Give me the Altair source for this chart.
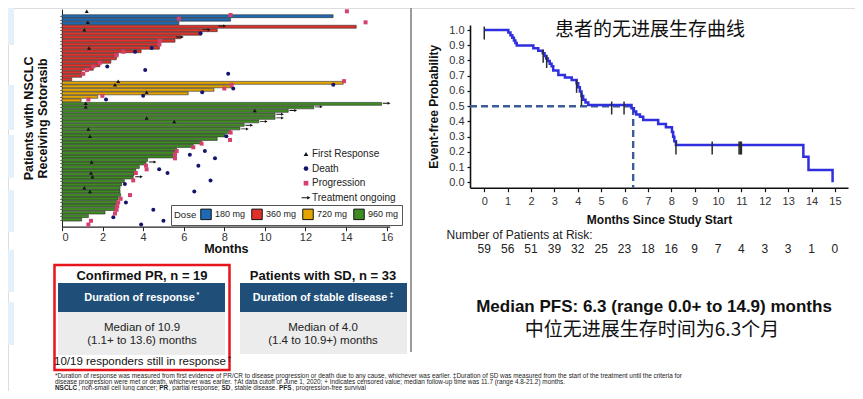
import altair as alt
import pandas as pd

OX, OY = 8, 8          # page margin: chart origin in the screenshot
W, H = 847, 383
LAT = "Liberation Sans"
CJK = "Noto Sans CJK SC"

# ---------------- swimmer plot data (rows listed top -> bottom) ----------------
dose_levels = ["180 mg", "360 mg", "720 mg", "960 mg"]
dose_colors = ["#1f6ab4", "#e0322a", "#e3a500", "#3f8c22"]
dose_counts = [3, 16, 6, 34]
bar_end = [13.36, 8.31, 5.76,
           14.5, 7.65, 6.88, 5.85, 5.57, 4.83, 4.8, 3.9, 2.77, 2.68, 2.41, 1.87, 1.54, 0.97, 0.97, 0.48,
           13.86, 8.36, 7.49, 6.22, 1.76, 0.94,
           15.75, 12.41, 11.15, 10.5, 10.5, 9.7, 8.98, 8.77, 8.31, 8.03, 7.65, 6.88, 6.47, 5.65, 5.57, 5.57,
           4.22, 4.14, 3.81, 3.64, 3.55, 3.51, 3.07, 2.94, 2.86, 2.86, 2.89, 2.77, 2.72, 2.69, 2.61, 2.12,
           1.3, 0.97]
fr_rows = [1, 4, 6, 11, 20, 21, 23, 26, 27, 28, 30, 31, 33, 35, 42, 45, 46, 49, 50]
fr_t = [1.22, 1.27, 1.1, 1.33, 2.77, 2.61, 4.17, 1.17, 1.17, 9.5, 4.17, 5.53, 1.3, 1.38, 1.46, 1.43, 1.5, 1.1, 1.38]
death_rows = [7, 11, 12, 16, 17, 18, 21, 22, 23, 24, 25, 35, 39, 40, 41, 43, 44, 45, 47, 48, 50, 53, 55, 57, 58, 59]
death_t = [6.83, 4.42, 3.6, 2.23, 4.1, 8.19, 13.37, 8.44, 6.91, 4.0, 2.17, 8.1, 7.04, 6.3, 7.54, 6.72, 4.79, 5.2,
           7.32, 3.1, 6.52, 3.15, 4.5, 2.53, 5.0, 3.9]
prog_rows = [1, 2, 3, 4, 9, 10, 12, 13, 15, 16, 17, 18, 20, 21, 22, 24, 25, 34, 36, 37, 38, 39, 40, 41, 43, 44,
             45, 47, 51, 52, 53, 54, 55, 56, 58, 59]
prog_t = [14.04, 8.31, 5.76, 14.96, 4.83, 4.8, 3.02, 2.68, 1.87, 1.54, 1.23, 1.05, 13.9, 8.36, 8.0, 1.99, 1.3,
          8.31, 8.28, 6.88, 6.47, 5.65, 5.57, 5.57, 4.14, 4.17, 3.64, 3.51, 3.35, 2.89, 2.77, 2.72, 2.69, 2.61,
          1.43, 1.3]
ongoing_rows = [5, 6, 8, 26, 27, 28, 29, 30, 31, 32, 33, 42, 46]
event_types = ["First Response", "Death", "Progression", "Treatment ongoing"]
event_colors = ["#111111", "#14146b", "#d6406f", "#111111"]
swim_ticks = [0, 2, 4, 6, 8, 10, 12, 14, 16]

# ---------------- Kaplan-Meier data ----------------
km_t = [0, 1.03, 1.12, 1.2, 1.27, 1.33, 1.39, 2.1, 2.31, 2.5, 2.58, 2.65, 2.72, 2.8, 2.88, 2.95, 3.17, 3.45,
        3.74, 3.95, 4.02, 4.09, 4.16, 4.23, 4.33, 4.45, 6.3, 6.4, 6.5, 6.66, 6.8, 7.44, 7.77, 8.03, 8.08, 8.13,
        8.2, 13.65, 13.87, 14.9]
km_s = [1.0, 0.983, 0.966, 0.949, 0.932, 0.915, 0.898, 0.881, 0.864, 0.847, 0.83, 0.813, 0.796, 0.779, 0.762,
        0.735, 0.705, 0.689, 0.672, 0.65, 0.624, 0.596, 0.567, 0.543, 0.525, 0.508, 0.487, 0.466, 0.446, 0.43,
        0.41, 0.383, 0.361, 0.33, 0.3, 0.27, 0.245, 0.168, 0.082, 0.0]
cens_t = [0, 2.52, 2.67, 3.95, 4.16, 5.45, 5.98, 8.2, 9.75, 10.9, 10.95, 11.0]
cens_s = [1.0, 0.847, 0.813, 0.65, 0.567, 0.508, 0.508, 0.245, 0.245, 0.245, 0.245, 0.245]
median_t = 6.37
risk_t = list(range(16))
risk_n = [59, 56, 51, 39, 32, 25, 23, 18, 16, 9, 7, 4, 3, 3, 1, 0]
km_yticks = [0.0, 0.1, 0.2, 0.3, 0.4, 0.5, 0.6, 0.7, 0.8, 0.9, 1.0]

# ---------------- texts ----------------
km_title = "患者的无进展生存曲线"
risk_label = "Number of Patients at Risk:"
pfs_en = "Median PFS: 6.3 (range 0.0+ to 14.9) months"
pfs_cn = "中位无进展生存时间为6.3个月"
pr_title = "Confirmed PR, n = 19"
pr_head = "Duration of response"
pr_l1 = "Median of 10.9"
pr_l2 = "(1.1+ to 13.6) months"
pr_foot = "10/19 responders still in response"
sd_title = "Patients with SD, n = 33"
sd_head = "Duration of stable disease"
sd_l1 = "Median of 4.0"
sd_l2 = "(1.4 to 10.9+) months"
foot1 = ("*Duration of response was measured from first evidence of PR/CR to disease progression or death due to "
         "any cause, whichever was earlier. \u2021Duration of SD was measured from the start of the treatment until "
         "the criteria for")
foot2 = ("disease progression were met or death, whichever was earlier. \u2020At data cutoff of June 1, 2020; + "
         "Indicates censored value; median follow-up time was 11.7  (range 4.8-21.2) months.")
foot3 = [("NSCLC", "bold"), (", non-small cell lung cancer; ", "normal"), ("PR", "bold"),
         (", partial response; ", "normal"), ("SD", "bold"), (", stable disease. ", "normal"),
         ("PFS", "bold"), (", progression-free survival", "normal")]

ONE = pd.DataFrame({"k": [0]})

# rough Arial advance widths (per 1000 em) for placing mixed-weight footnote segments
_w = {" ": 278, ",": 278, ".": 278, ";": 278, "-": 333, "a": 556, "b": 556, "c": 500, "d": 556, "e": 556,
      "f": 278, "g": 556, "h": 556, "i": 222, "l": 222, "m": 833, "n": 556, "o": 556, "p": 556, "r": 333,
      "s": 500, "t": 278, "u": 556, "v": 500, "w": 722, "y": 500, "N": 722, "S": 667, "C": 722, "L": 556,
      "P": 667, "R": 722, "D": 722, "F": 611}


def text_w(s, size, weight):
    k = 1.07 if weight == "bold" else 1.0
    return sum(_w.get(c, 556) for c in s) * size / 1000 * k


def txt(x, y, s, size=11, weight="normal", color="#111111", align="center", font=LAT):
    return alt.Chart(pd.DataFrame({"s": [s]})).mark_text(
        align=align, baseline="middle", fontSize=size, fontWeight=weight, color=color, font=font
    ).encode(x=alt.value(x - OX), y=alt.value(y - OY), text="s:N")


def rect(x1, y1, x2, y2, fill, stroke="transparent", sw=0):
    return alt.Chart(ONE).mark_rect(fill=fill, stroke=stroke, strokeWidth=sw).encode(
        x=alt.value(x1 - OX), x2=alt.value(x2 - OX), y=alt.value(y1 - OY), y2=alt.value(y2 - OY))


# ---------------- swimmer plot ----------------
rows = list(range(1, len(bar_end) + 1))
dose = sum(([d] * n for d, n in zip(dose_levels, dose_counts)), [])
bars = pd.DataFrame({"row": rows, "end": bar_end, "dose": dose})
ev = pd.DataFrame({
    "event": ["First Response"] * len(fr_rows) + ["Death"] * len(death_rows) + ["Progression"] * len(prog_rows),
    "row": fr_rows + death_rows + prog_rows,
    "t": fr_t + death_t + prog_t})
ongo = pd.DataFrame({"event": ["Treatment ongoing"] * len(ongoing_rows), "row": ongoing_rows,
                     "t": [bar_end[r - 1] for r in ongoing_rows]})

sx = alt.Scale(domain=[0, 16.15], range=[54, 381.7], nice=False, zero=False)
sy = alt.Scale(domain=[0.4, 59.6], range=[1.1, 218.7], nice=False, zero=False)

ARROW = "M-1.9,-0.22L0.5,-0.22L0.5,-0.75L1.9,0L0.5,0.75L0.5,0.22L-1.9,0.22Z"
shape_sc = alt.Scale(domain=event_types, range=["triangle-up", "circle", "square", ARROW])
color_sc = alt.Scale(domain=event_types, range=event_colors)
ev_leg = alt.Legend(title=None, orient="none", legendX=293, legendY=141, labelFontSize=10, labelColor="#222222",
                    symbolStrokeWidth=0, rowPadding=4.6, labelOffset=1, padding=0, symbolSize=22)
dose_leg = alt.Legend(title="Dose", orient="none", legendX=163, legendY=197, direction="horizontal",
                      titleOrient="left", titleFontSize=9.5, titleFontWeight="normal", titleColor="#222222",
                      titlePadding=3, labelFontSize=9, labelColor="#222222", labelOffset=3, columnPadding=3,
                      symbolType="square", symbolSize=110, symbolStrokeColor="#111111", symbolStrokeWidth=1,
                      symbolOpacity=1, strokeColor="#555555", padding=3)

sw_xaxis = alt.Axis(orient="bottom", offset=218.7 - H, values=swim_ticks, format="d", title="Months",
                    titleFontSize=12.5, titleFontWeight="bold", titleColor="#111111", titlePadding=0,
                    labelFontSize=11, labelColor="#333333", labelPadding=1, tickSize=4, tickColor="#222222",
                    domainColor="#222222", domainWidth=1.3, grid=False)
sw_yaxis = alt.Axis(orient="left", offset=-54, values=rows, labels=False, tickSize=2.5, tickWidth=0.6,
                    tickColor="#333333", domainColor="#222222", domainWidth=1.0, grid=False,
                    title=["Patients with NSCLC", "Receiving Sotorasib"], titleFontSize=12.5,
                    titleFontWeight="bold", titleColor="#111111", titlePadding=10, titleLineHeight=14)

bar_layer = alt.Chart(bars).mark_bar(orient="horizontal", size=2.9, stroke="#2a2a2a", strokeWidth=0.6).encode(
    x=alt.X("end:Q", scale=sx, axis=sw_xaxis),
    y=alt.Y("row:Q", scale=sy, axis=sw_yaxis),
    fill=alt.Fill("dose:N", scale=alt.Scale(domain=dose_levels, range=dose_colors), legend=dose_leg))
ev_layer = alt.Chart(ev).mark_point(filled=True, size=16, opacity=1).encode(
    x=alt.X("t:Q", scale=sx, axis=None), y=alt.Y("row:Q", scale=sy, axis=None),
    shape=alt.Shape("event:N", scale=shape_sc, legend=ev_leg),
    color=alt.Color("event:N", scale=color_sc, legend=ev_leg))
ongo_layer = alt.Chart(ongo).mark_point(filled=True, size=16, opacity=1, xOffset=5).encode(
    x=alt.X("t:Q", scale=sx, axis=None), y=alt.Y("row:Q", scale=sy, axis=None),
    shape=alt.Shape("event:N", scale=shape_sc, legend=ev_leg),
    color=alt.Color("event:N", scale=color_sc, legend=ev_leg))

# ---------------- Kaplan-Meier ----------------
kx = alt.Scale(domain=[-0.61, 15.56], range=[462, 840], nice=False, zero=False)
ky = alt.Scale(domain=[-0.035, 1.033], range=[179.7, 17], nice=False, zero=False)
km_xaxis = alt.Axis(orient="bottom", offset=179.7 - H, values=risk_t, format="d",
                    title="Months Since Study Start", titleFontSize=12, titleFontWeight="bold",
                    titleColor="#111111", titlePadding=8, labelFontSize=11, labelColor="#333333",
                    labelPadding=4, tickSize=4, tickColor="#111111", tickWidth=1.2, domainColor="#111111",
                    domainWidth=1.6, grid=False)
km_yaxis = alt.Axis(orient="left", offset=-462, values=km_yticks, format=".1f",
                    title="Event-free Probability", titleFontSize=12, titleFontWeight="bold",
                    titleColor="#111111", titlePadding=8, labelFontSize=11, labelColor="#333333",
                    labelPadding=3, tickSize=3, tickColor="#111111", tickWidth=1.2, domainColor="#111111",
                    domainWidth=1.6, grid=False)

km_df = pd.DataFrame({"t": km_t, "s": km_s})
dash_df = pd.DataFrame({"t": [kx.domain[0], median_t, median_t], "s": [0.5, 0.5, ky.domain[0]], "o": [0, 1, 2]})
cens_df = pd.DataFrame({"t": cens_t, "s": cens_s})
risk_df = pd.DataFrame({"t": risk_t, "n": [str(v) for v in risk_n]})

dash = alt.Chart(dash_df).mark_line(color="#3b5c99", strokeDash=[7, 4], strokeWidth=2.4).encode(
    x=alt.X("t:Q", scale=kx, axis=None), y=alt.Y("s:Q", scale=ky, axis=None), order="o:Q")
line = alt.Chart(km_df).mark_line(interpolate="step-after", color="#2f2fe0", strokeWidth=2.5).encode(
    x=alt.X("t:Q", scale=kx, axis=km_xaxis), y=alt.Y("s:Q", scale=ky, axis=km_yaxis))
cens = alt.Chart(cens_df).mark_tick(orient="vertical", size=13, thickness=1.5, color="#2b2b2b", yOffset=3,
                                    opacity=1).encode(
    x=alt.X("t:Q", scale=kx, axis=None), y=alt.Y("s:Q", scale=ky, axis=None))
risk = alt.Chart(risk_df).mark_text(fontSize=12, color="#222222", font=LAT).encode(
    x=alt.X("t:Q", scale=kx, axis=None), y=alt.value(249 - OY), text="n:N")

# ---------------- decorations and boxes ----------------
bg = [rect(0, y1, 14, y2, "#e4f1fb") for (y1, y2) in [(5, 45), (85, 130), (135, 178), (190, 232), (250, 292),
                                                        (302, 345)]]
sep = alt.Chart(ONE).mark_rule(color="#9a9a9a", strokeWidth=2).encode(
    x=alt.value(411 - OX), y=alt.value(0), y2=alt.value(352 - OY))
boxes = [
    rect(58, 283, 225, 312, "#1f4e79"),
    rect(58, 312, 225, 355, "#ececec"),
    rect(240, 283, 407, 312, "#1f4e79"),
    rect(240, 312, 407, 354, "#ececec"),
    rect(54.5, 265, 229.5, 370, "transparent", "#e8141c", 2.5),
]

texts = [
    txt(650, 30, km_title, 19, color="#111111", font=CJK),
    txt(446.5, 235, risk_label, 12, color="#222222", align="left"),
    txt(654, 307, pfs_en, 17, "bold"),
    txt(652, 330, pfs_cn, 19, font=CJK),
    txt(142, 276, pr_title, 13, "bold"),
    txt(139.5, 298, pr_head, 11, "bold", "white"),
    txt(196.5, 295, "*", 7, "bold", "white", "left"),
    txt(142, 327.5, pr_l1, 11.5, color="#222222"),
    txt(142, 341, pr_l2, 11.5, color="#222222"),
    txt(140, 362, pr_foot, 11.5, color="#111111"),
    txt(227.5, 358.5, "\u2020", 7, color="#111111", align="left"),
    txt(323, 276, sd_title, 13, "bold"),
    txt(320, 298, sd_head, 10.8, "bold", "white"),
    txt(389.5, 295, "\u2021", 7, "bold", "white", "left"),
    txt(323, 327.5, sd_l1, 11.5, color="#222222"),
    txt(323, 341, sd_l2, 11.5, color="#222222"),
    txt(55, 376, foot1, 6.4, color="#222222", align="left"),
    txt(55, 382.3, foot2, 6.4, color="#222222", align="left"),
]
xpos = 55.0
for seg, wt in foot3:
    texts.append(txt(xpos, 388.3, seg, 6.4, wt, "#222222", "left"))
    xpos += text_w(seg, 6.4, wt)

chart = alt.layer(
    *bg, sep, *boxes, bar_layer, ev_layer, ongo_layer, dash, line, cens, risk, *texts
).resolve_scale(
    x="independent", y="independent"
).properties(
    width=W, height=H, autosize=alt.AutoSizeParams(type="none"), padding=0, background="white"
).configure_view(strokeWidth=0).configure(font=LAT).configure_axis(labelFont=LAT, titleFont=LAT).configure_legend(
    labelFont=LAT, titleFont=LAT)

chart.save("out.html", embed_options={"renderer": "svg", "actions": False})
